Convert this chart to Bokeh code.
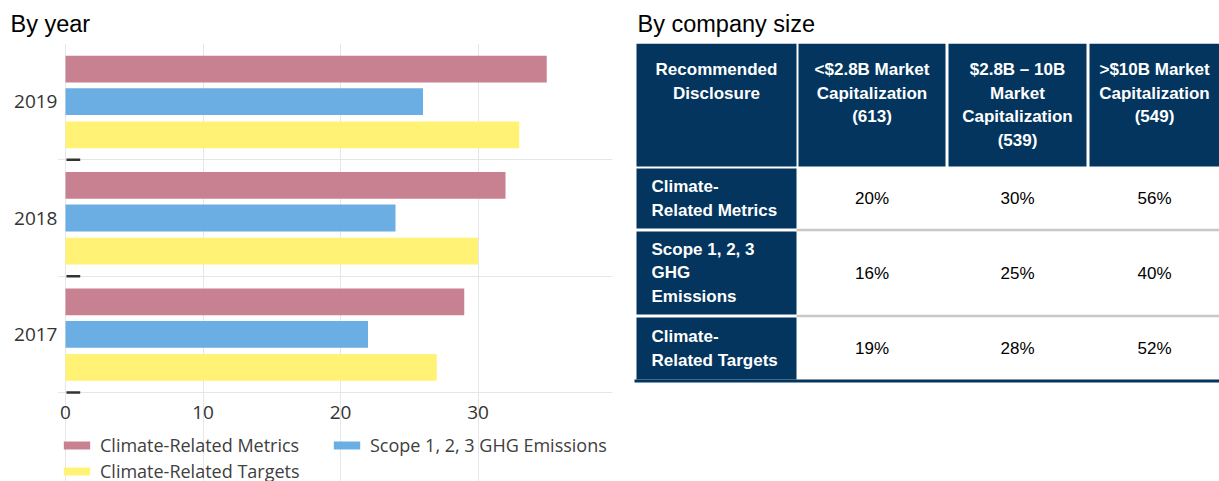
from bokeh.plotting import figure
from bokeh.layouts import row
from bokeh.models import Range1d, FixedTicker, Legend, LegendItem, ColumnDataSource
from bokeh.transform import dodge
from bokeh.core.properties import value
from bokeh.embed import file_html
from bokeh.resources import INLINE

# ---------------- data ----------------
years = ["2017", "2018", "2019"]
metrics = [29, 32, 35]
ghg = [22, 24, 26]
targets = [27, 30, 33]
series_names = ["Climate-Related Metrics", "Scope 1, 2, 3 GHG Emissions", "Climate-Related Targets"]
x_ticks = [0, 10, 20, 30]

table_headers = [
    "Recommended\nDisclosure",
    "<$2.8B Market\nCapitalization\n(613)",
    "$2.8B \u2013 10B\nMarket\nCapitalization\n(539)",
    ">$10B Market\nCapitalization\n(549)",
]
table_rows = ["Climate-\nRelated Metrics", "Scope 1, 2, 3\nGHG\nEmissions", "Climate-\nRelated Targets"]
small_cap = [20, 16, 19]
mid_cap = [30, 25, 28]
large_cap = [56, 40, 52]

# ---------------- styles / layout ----------------
PINK, BLUE, YELLOW = "#C88191", "#6AAEE3", "#FFF275"
NAVY = "#03355E"
CHART_FONT = "Open Sans"
TABLE_FONT = "Liberation Sans"

W, H = 1219, 481
TOP, AXIS_Y = 43, 392           # plot top and x-axis baseline (page px)
W1 = 628
FRAME_LEFT, ZERO_X, FRAME_RIGHT = 57, 65, 612
X_PX = 13.75                    # px per x unit
n = len(years)
px_per_unit = (AXIS_Y - TOP) / n
y_min = -(H - AXIS_Y) / px_per_unit       # frame extends to the page bottom
tick_label_y = -20 / px_per_unit          # x tick labels 20px below the axis
x_min = -(ZERO_X - FRAME_LEFT) / X_PX
x_max = (FRAME_RIGHT - ZERO_X) / X_PX

# ---------------- left chart ----------------
ypos = [i + 0.5 for i in range(n)]
src = ColumnDataSource(dict(y=ypos, metrics=metrics, ghg=ghg, targets=targets))

p = figure(width=W1, height=H, output_backend="svg", toolbar_location=None,
           x_range=Range1d(x_min, x_max), y_range=Range1d(y_min, n),
           x_axis_location=None,
           min_border_left=FRAME_LEFT, min_border_right=W1 - FRAME_RIGHT, min_border_top=TOP,
           min_border_bottom=0, title="By year")
p.outline_line_color = None
p.title.text_font = TABLE_FONT
p.title.text_font_size = "23.5px"
p.title.text_font_style = "normal"
p.title.text_color = "#000000"
p.title.align = "left"
p.title.offset = 10 - FRAME_LEFT
p.title.standoff = 13

# grid
p.xgrid.ticker = FixedTicker(ticks=x_ticks)
p.xgrid.bounds = (0, n)
p.xgrid.grid_line_color = "#E6E6E6"
p.ygrid.ticker = FixedTicker(ticks=list(range(0, n + 1)))
p.ygrid.bounds = (0, x_max)
p.ygrid.grid_line_color = "#E6E6E6"

bh = 0.23
r1 = p.hbar(y=dodge("y", 0.28), right="metrics", height=bh, left=0, source=src,
            fill_color=PINK, line_color=None)
r2 = p.hbar(y=dodge("y", 0.0), right="ghg", height=bh, left=0, source=src,
            fill_color=BLUE, line_color=None)
r3 = p.hbar(y=dodge("y", -0.285), right="targets", height=bh, left=0, source=src,
            fill_color=YELLOW, line_color=None)

# short dark marks at the group boundaries on the value axis origin
bounds_y = list(range(n))
p.segment(x0=[0.07] * n, x1=[1.07] * n, y0=bounds_y, y1=bounds_y,
          line_color="#333333", line_width=2.5)

# x tick labels
p.text(x=x_ticks, y=[tick_label_y] * len(x_ticks), text=[str(v) for v in x_ticks],
       text_font=value(CHART_FONT), text_font_size="19px", text_color="#333333",
       text_align="center", text_baseline="middle")

p.yaxis.ticker = FixedTicker(ticks=ypos, minor_ticks=[])
p.yaxis.major_label_overrides = {y: lab for y, lab in zip(ypos, years)}
p.yaxis.axis_line_color = None
p.yaxis.major_tick_line_color = None
p.yaxis.minor_tick_line_color = None
p.yaxis.major_tick_in = 0
p.yaxis.major_tick_out = 0
p.yaxis.minor_tick_in = 0
p.yaxis.minor_tick_out = 0
p.yaxis.major_label_standoff = 0
p.yaxis.major_label_text_font = CHART_FONT
p.yaxis.major_label_text_font_size = "19px"
p.yaxis.major_label_text_color = "#333333"

legend = Legend(items=[LegendItem(label=series_names[0], renderers=[r1]),
                       LegendItem(label=series_names[1], renderers=[r2]),
                       LegendItem(label=series_names[2], renderers=[r3])],
                location=(3, -2), orientation="horizontal", ncols=2,
                glyph_width=33, glyph_height=10, label_standoff=7, label_width=228,
                label_height=18, spacing=2, padding=0, margin=0,
                border_line_color=None, background_fill_alpha=0,
                label_text_font=CHART_FONT, label_text_font_size="18px",
                label_text_color="#404040")
p.add_layout(legend)

# ---------------- right table ----------------
# layout (page pixel coordinates)
col_left = [636, 798, 948, 1089]
col_right = [796, 945, 1086, W]
header_top, header_bottom = 43, 166
row_top = [168, 231, 317]
row_bottom = [228, 314, 379]

t = figure(width=W - W1, height=H, output_backend="svg", toolbar_location=None,
           x_range=Range1d(W1, W), y_range=Range1d(H, TOP),
           x_axis_location=None, y_axis_location=None, min_border_left=0,
           min_border_right=0, min_border_top=TOP, min_border_bottom=0,
           title="By company size")
t.outline_line_color = None
t.grid.grid_line_color = None
t.title.text_font = TABLE_FONT
t.title.text_font_size = "23.5px"
t.title.text_font_style = "normal"
t.title.text_color = "#000000"
t.title.align = "left"
t.title.offset = 9
t.title.standoff = 13

# header cells
t.quad(left=col_left, right=col_right, top=[header_top] * 4, bottom=[header_bottom] * 4,
       fill_color=NAVY, line_color=None)
t.text(x=[(a + b) / 2 for a, b in zip(col_left, col_right)], y=[header_top + 16.5] * 4,
       text=table_headers, text_font=value(TABLE_FONT), text_font_size="17px",
       text_font_style="bold", text_color="white", text_align="center",
       text_baseline="top", text_line_height=1.24)

# row label cells
t.quad(left=[col_left[0]] * 3, right=[col_right[0]] * 3, top=row_top, bottom=row_bottom,
       fill_color=NAVY, line_color=None)
row_mid = [(a + b) / 2 for a, b in zip(row_top, row_bottom)]
t.text(x=[651] * 3, y=row_mid, text=table_rows, text_font=value(TABLE_FONT),
       text_font_size="17px", text_font_style="bold", text_color="white",
       text_align="left", text_baseline="middle", text_line_height=1.24)

# row separators
sep_y = [(row_bottom[i] + row_top[i + 1]) / 2 for i in range(2)]
t.segment(x0=[col_right[0]] * 2, x1=[col_right[-1]] * 2, y0=sep_y, y1=sep_y,
          line_color="#C8C8C8", line_width=2.5)
# bottom rule
t.quad(left=[634], right=[col_right[-1]], top=[row_bottom[-1]], bottom=[row_bottom[-1] + 3],
       fill_color=NAVY, line_color=None)

# values
for ci, vals in enumerate([small_cap, mid_cap, large_cap], start=1):
    cx = (col_left[ci] + col_right[ci]) / 2
    t.text(x=[cx] * 3, y=row_mid, text=[f"{v}%" for v in vals], text_font=value(TABLE_FONT),
           text_font_size="17px", text_color="#000000", text_align="center",
           text_baseline="middle")

layout = row(p, t)
open("out.html", "w").write(file_html(layout, INLINE))
